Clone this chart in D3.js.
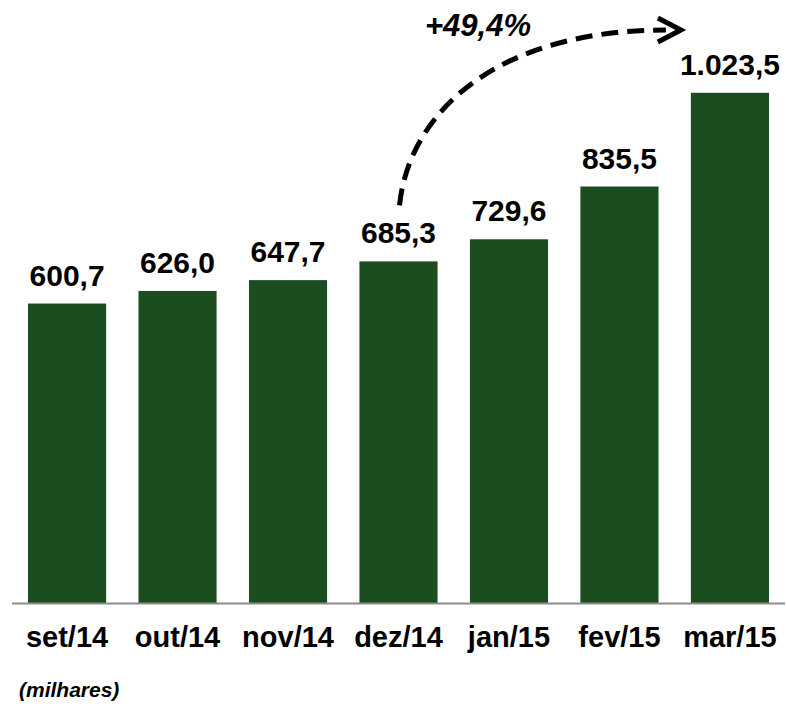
<!DOCTYPE html>
<html>
<head>
<meta charset="utf-8">
<script src="https://cdn.jsdelivr.net/npm/d3@7"></script>
<style>
  body { margin: 0; background: #fff; }
  text { font-family: Arial, "Liberation Sans", sans-serif; }
</style>
</head>
<body>
<div id="chart"></div>
<script>
// monthly values (milhares)
var months = ['set/14', 'out/14', 'nov/14', 'dez/14', 'jan/15', 'fev/15', 'mar/15'];
var values = [600.7, 626.0, 647.7, 685.3, 729.6, 835.5, 1023.5];
var labels = ['600,7', '626,0', '647,7', '685,3', '729,6', '835,5', '1.023,5'];
var growthLabel = '+49,4%';
var unitLabel = '(milhares)';

var width = 786, height = 706;
var baseY = 603;

var svg = d3.select('#chart').append('svg')
  .attr('width', width)
  .attr('height', height);

var x = d3.scaleBand()
  .domain(months)
  .range([28, 769])
  .paddingInner(0.293)
  .paddingOuter(0);

var y = d3.scaleLinear()
  .domain([0, 1000])
  .range([baseY, baseY - 498.5]);

var data = months.map(function(m, i) {
  return { month: m, value: values[i], label: labels[i] };
});

// bars
svg.selectAll('rect.bar')
  .data(data)
  .enter()
  .append('rect')
  .attr('class', 'bar')
  .attr('x', d => x(d.month))
  .attr('y', d => y(d.value))
  .attr('width', x.bandwidth())
  .attr('height', d => baseY - y(d.value))
  .attr('fill', '#1c4d20');

// baseline
svg.append('line')
  .attr('x1', 12)
  .attr('x2', 785)
  .attr('y1', baseY + 0.5)
  .attr('y2', baseY + 0.5)
  .attr('stroke', '#8c8c8c')
  .attr('stroke-width', 2);

// value labels
svg.selectAll('text.val')
  .data(data)
  .enter()
  .append('text')
  .attr('class', 'val')
  .attr('x', d => x(d.month) + x.bandwidth() / 2)
  .attr('y', d => y(d.value) - 18)
  .attr('text-anchor', 'middle')
  .style('font-size', '30px')
  .style('font-weight', 'bold')
  .text(d => d.label);

// category labels
svg.selectAll('text.cat')
  .data(data)
  .enter()
  .append('text')
  .attr('class', 'cat')
  .attr('x', d => x(d.month) + x.bandwidth() / 2)
  .attr('y', 647)
  .attr('text-anchor', 'middle')
  .style('font-size', '29px')
  .style('font-weight', 'bold')
  .text(d => d.month);

svg.append('text')
  .attr('x', 19)
  .attr('y', 697)
  .style('font-size', '21px')
  .style('font-weight', 'bold')
  .style('font-style', 'italic')
  .text(unitLabel);

// growth arrow dez/14 -> mar/15
var sx = x('dez/14') + x.bandwidth() / 2 + 1;
var sy = y(values[3]) - 56;
var ex = x('mar/15') - 25;
var ey = 30;
var path = d3.path();
path.moveTo(sx, sy);
path.bezierCurveTo(sx + 10, 110, sx + 100, ey, ex, ey);
svg.append('path')
  .attr('d', path.toString())
  .attr('fill', 'none')
  .attr('stroke', '#000')
  .attr('stroke-width', 5)
  .attr('stroke-dasharray', '17,9');

svg.append('path')
  .attr('d', 'M' + (ex - 8) + ',' + (ey - 12) + 'L' + (ex + 15) + ',' + ey + 'L' + (ex - 8) + ',' + (ey + 12))
  .attr('fill', 'none')
  .attr('stroke', '#000')
  .attr('stroke-width', 5);

svg.append('text')
  .attr('x', 425)
  .attr('y', 36)
  .style('font-size', '31px')
  .style('font-weight', 'bold')
  .style('font-style', 'italic')
  .text(growthLabel);
</script>
</body>
</html>
